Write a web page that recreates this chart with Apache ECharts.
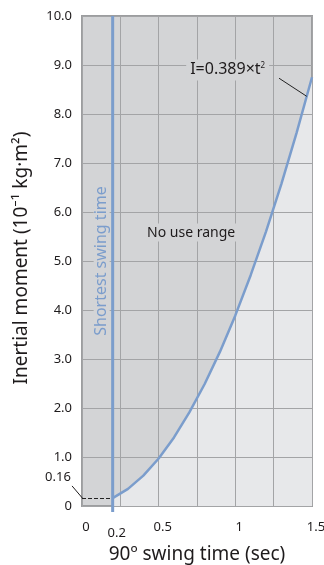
<!DOCTYPE html>
<html><head><meta charset="utf-8">
<script src="https://cdn.jsdelivr.net/npm/echarts@6/dist/echarts.min.js"></script>
<style>html,body{margin:0;padding:0;background:#fff}#c{width:324px;height:565px}</style>
</head><body><div id="c"></div>
<script>
// swing time (sec) and inertial moment (10^-1 kg·m^2)
var swingTime = [0.2, 0.3, 0.4, 0.5, 0.6, 0.7, 0.8, 0.9, 1.0, 1.1, 1.2, 1.3, 1.4, 1.5];
var inertia   = [0.16, 0.35, 0.62, 0.97, 1.40, 1.91, 2.49, 3.15, 3.89, 4.71, 5.60, 6.57, 7.62, 8.75];
var xTickLabels = [0, 0.2, 0.5, 1, 1.5];
var shortestTime = 0.2;
var shortestValue = 0.16;

var FONT = 'Noto Sans';
var TXT = '#1e1b1c';
var BLUE = '#7b9dcc';
var DARK = '#d3d4d6';
var LIGHT = '#e7e8ea';
var GRIDC = '#a3a4a6';

var chart = echarts.init(document.getElementById('c'), null, {renderer: 'canvas'});
var curve = swingTime.map(function (t, i) { return [t, inertia[i]]; });

chart.setOption({
  animation: false,
  grid: {left: 82, right: 12, top: 16, bottom: 59, outerBoundsMode: 'none', containLabel: false,
         show: true, backgroundColor: DARK, borderColor: '#9c9d9f', borderWidth: 2, z: 0},
  xAxis: {
    type: 'value', min: 0, max: 1.5, interval: 0.25, z: 3,
    axisLine: {show: false}, axisTick: {show: false},
    splitLine: {show: true, lineStyle: {color: GRIDC, width: 1}},
    axisLabel: {
      customValues: xTickLabels, margin: 15, color: TXT, fontFamily: FONT, fontSize: 13,
      formatter: function (v) { return v === 0.2 ? '{low|0.2}' : '{n|' + v + '}'; },
      rich: {
        n: {fontFamily: FONT, fontSize: 13, color: TXT, padding: [0, 0, 0, 8]},
        low: {fontFamily: FONT, fontSize: 13, color: TXT, padding: [6, 0, 0, 8]}
      }
    },
    name: '90º swing time (sec)', nameLocation: 'middle', nameGap: 33,
    nameTextStyle: {fontFamily: FONT, fontSize: 19, color: TXT}
  },
  yAxis: {
    type: 'value', min: 0, max: 10, interval: 1, z: 3,
    axisLine: {show: false}, axisTick: {show: false},
    splitLine: {show: true, lineStyle: {color: GRIDC, width: 1}},
    axisLabel: {
      margin: 10, color: TXT, fontFamily: FONT, fontSize: 13,
      formatter: function (v) { return v === 0 ? '0' : v.toFixed(1); }
    },
    name: 'Inertial moment (10⁻¹ kg·m²)', nameLocation: 'middle', nameGap: 51,
    nameTextStyle: {fontFamily: FONT, fontSize: 19, color: TXT, padding: [0, 0, 0, 6]}
  },
  series: [{
    type: 'line', data: curve, symbol: 'none', z: 1,
    lineStyle: {width: 0},
    areaStyle: {color: LIGHT, opacity: 1}
  }, {
    type: 'line', data: curve, symbol: 'none', z: 5,
    lineStyle: {color: BLUE, width: 2.5},
    markLine: {
      silent: true, symbol: 'none', label: {show: false},
      data: [
        [{coord: [0, shortestValue], lineStyle: {color: '#222', type: [4, 2], width: 1}},
         {coord: [shortestTime, shortestValue]}]
      ]
    }
  }]
});

function px(x, y) { return chart.convertToPixel({gridIndex: 0}, [x, y]); }
var vTop = px(shortestTime, 10), vBot = px(shortestTime, -0.12);
var a1 = px(-0.065, 0.41), a2 = px(0.003, shortestValue);
var l1 = px(1.285, 8.73), l2 = px(1.466, 8.36);
var pNo = px(0.712, 5.58), pShort = px(0.128, 5.0), pEq = px(0.95, 8.9), p016 = px(-0.157, 0.58);

chart.setOption({
  graphic: [
    {type: 'line', z: 10, shape: {x1: vTop[0], y1: vTop[1], x2: vBot[0], y2: vBot[1]}, style: {stroke: BLUE, lineWidth: 3}},
    {type: 'line', z: 100, shape: {x1: a1[0], y1: a1[1], x2: a2[0], y2: a2[1]}, style: {stroke: '#1e1b1c', lineWidth: 1}},
    {type: 'line', z: 10, shape: {x1: l1[0], y1: l1[1], x2: l2[0], y2: l2[1]}, style: {stroke: '#222', lineWidth: 1}},
    {type: 'text', z: 10, x: pNo[0], y: pNo[1], style: {text: 'No use range', fill: TXT, font: '14px "' + FONT + '"', align: 'center', verticalAlign: 'middle', backgroundColor: DARK, padding: [2, 1]}},
    {type: 'text', z: 10, x: pShort[0], y: pShort[1], rotation: Math.PI / 2, style: {text: 'Shortest swing time', fill: BLUE, font: '16px "' + FONT + '"', align: 'center', verticalAlign: 'middle', backgroundColor: DARK, padding: [0, 1]}},
    {type: 'text', z: 10, x: pEq[0], y: pEq[1], style: {
      text: '{m|I=0.389×t}{s|2}', align: 'center', verticalAlign: 'middle', backgroundColor: DARK, padding: [2, 4],
      rich: {m: {fill: TXT, font: '16px "' + FONT + '"'}, s: {fill: TXT, font: '8px "' + FONT + '"', padding: [0, 0, 9, 0]}}
    }},
    {type: 'text', z: 10, x: p016[0], y: p016[1], style: {text: '0.16', fill: TXT, font: '13px "' + FONT + '"', align: 'center', verticalAlign: 'middle'}}
  ]
});
</script></body></html>
